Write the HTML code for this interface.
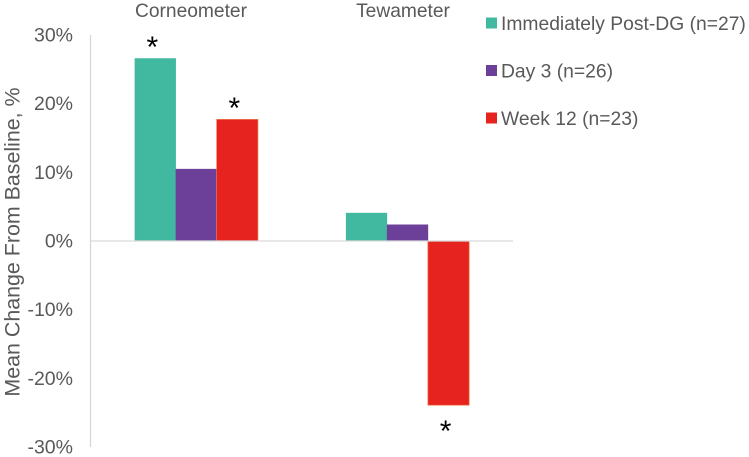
<!DOCTYPE html>
<html>
<head>
<meta charset="utf-8">
<style>
html,body{margin:0;padding:0;background:#fff;width:749px;height:457px;overflow:hidden}
svg{display:block}
text{font-family:"Liberation Sans",Arial,sans-serif;fill:#595959}
</style>
</head>
<body>
<svg id="chart" width="749" height="457" viewBox="0 0 749 457" xmlns="http://www.w3.org/2000/svg"></svg>
<script>
const categories = ["Corneometer", "Tewameter"];
const seriesNames = ["Immediately Post-DG (n=27)", "Day 3 (n=26)", "Week 12 (n=23)"];
const seriesColors = ["#41b8a0", "#6c3f98", "#e7231f"];
const immediatelyPostDg = [26.6, 4.1];
const day3 = [10.5, 2.4];
const week12 = [17.7, -23.9];
const significant = [[true, false], [false, false], [true, true]];
const tickValues = [30, 20, 10, 0, -10, -20, -30];
const allSeries = [immediatelyPostDg, day3, week12];

const svg = document.getElementById('chart');
const NS = 'http://www.w3.org/2000/svg';
function make(tag, attrs, text) {
  const el = document.createElementNS(NS, tag);
  for (const k in attrs) el.setAttribute(k, attrs[k]);
  if (text !== undefined) el.textContent = text;
  svg.appendChild(el);
  return el;
}
const plotLeft = 90.5, plotRight = 513, y0 = 241, pxPerUnit = 6.87;
const barWidth = 41;
function yScale(v) { return y0 - v * pxPerUnit; }
function groupCenter(i) { return plotLeft + (plotRight - plotLeft) * (i + 0.5) / categories.length; }
function barLeft(g, s) { return groupCenter(g) + (s - 1.5) * barWidth; }

// y axis line
const yAxis = make('line', {x1: plotLeft, x2: plotLeft, y1: yScale(30), y2: yScale(-30), stroke: '#d4d4d4', 'stroke-width': 1.2});



// tick labels
tickValues.forEach(function (t) {
  const label = make('text', {x: 73, y: yScale(t) + 6.5, 'text-anchor': 'end', 'font-size': 19.5}, t + '%');
  
  
});

// bars
allSeries.forEach(function (values, s) {
  values.forEach(function (v, g) {
    const top = Math.min(yScale(v), y0);
    const bar = make('rect', {x: barLeft(g, s), y: top, width: barWidth + 0.3, height: Math.abs(yScale(v) - y0), fill: seriesColors[s]});
    if (s === 2) {
      bar.setAttribute('stroke', '#ee7a45');
      bar.setAttribute('stroke-width', '0.7');
    }
    
    
    if (significant[s][g]) {
      const cx = barLeft(g, s) + barWidth / 2 - 2.8;
      const sy = v >= 0 ? yScale(v) - 1.5 : yScale(v) + 36;
      const star = make('text', {x: cx, y: sy, 'text-anchor': 'middle', 'font-size': 30});
      star.textContent = '*';
      star.style.fill = '#000';
      
      
    }
  });
});

// zero baseline
const baseline = make('line', {x1: plotLeft, x2: plotRight, y1: y0, y2: y0, stroke: '#d9d9d9', 'stroke-width': 1.2});



// category labels above the plot
const categoryX = [191, 403];
categories.forEach(function (c, i) {
  const label = make('text', {x: categoryX[i], y: 17, 'text-anchor': 'middle', 'font-size': 19.2}, c);
  
  
});

// legend
seriesNames.forEach(function (n, i) {
  const rowY = 23 + i * 47.5;
  const swatch = make('rect', {x: 486, y: rowY - 5.5, width: 11, height: 11, fill: seriesColors[i]});
  
  
  const label = make('text', {x: 501, y: rowY + 7, 'font-size': 19.3}, n);
  
  
});

// y axis title
const title = make('text', {transform: 'translate(19.5,242) rotate(-90)', 'text-anchor': 'middle', 'font-size': 21.4}, 'Mean Change From Baseline, %');


</script>
</body>
</html>
